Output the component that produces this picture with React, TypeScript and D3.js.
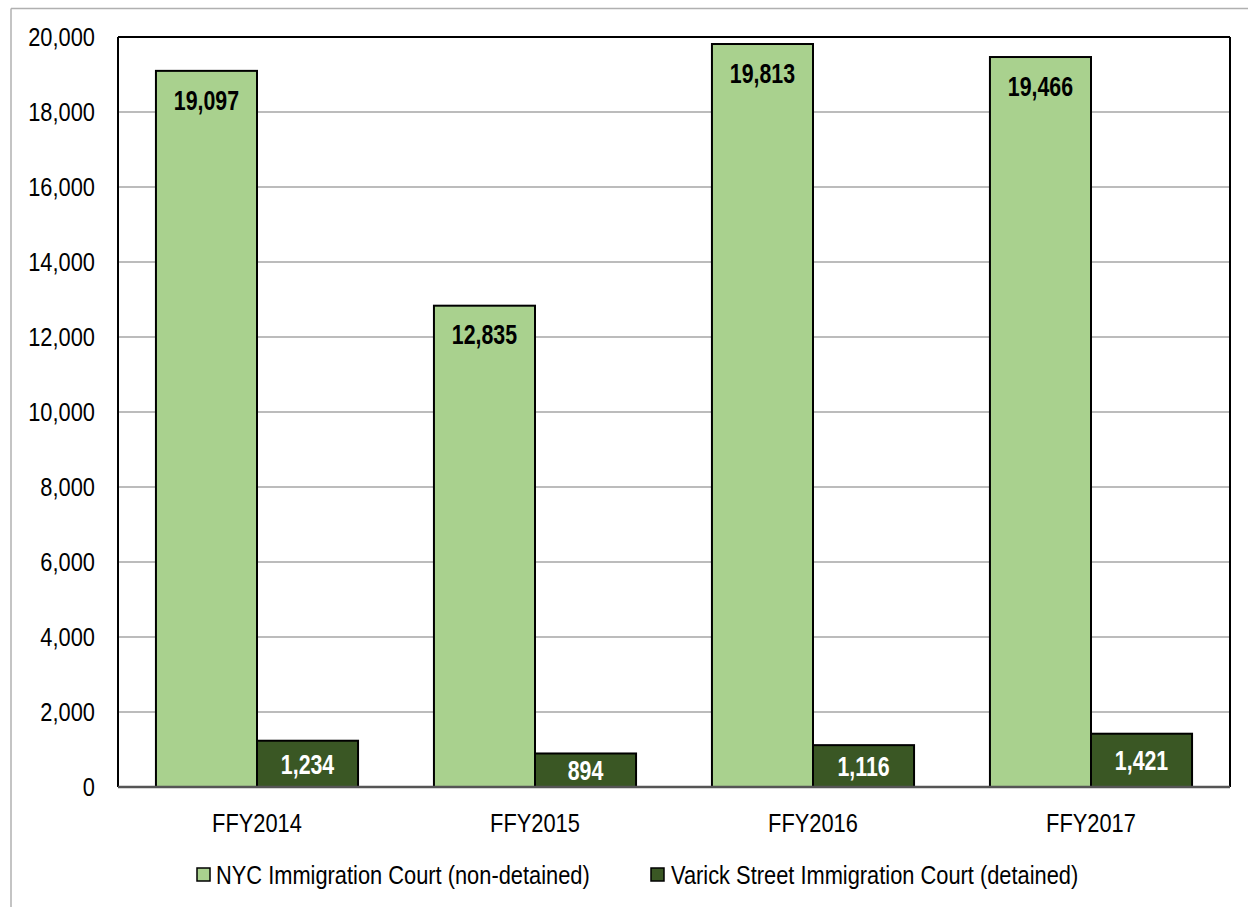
import React from "react";
import * as d3 from "d3";

const categories = ["FFY2014", "FFY2015", "FFY2016", "FFY2017"];
const seriesNames = [
  "NYC Immigration Court (non-detained)",
  "Varick Street Immigration Court (detained)",
];
const nycValues = [19097, 12835, 19813, 19466];
const varickValues = [1234, 894, 1116, 1421];
const yTicks = [0, 2000, 4000, 6000, 8000, 10000, 12000, 14000, 16000, 18000, 20000];

const colors = ["#A9D18E", "#3A5724"];
const FONT = "'Liberation Sans', Arial, sans-serif";
const SX = 0.84;
const SXB = 0.79;

function T(props: {
  x: number; y: number; sx: number; size: number; anchor?: string; bold?: boolean; fill?: string; children: React.ReactNode;
}) {
  return (
    <text
      transform={`translate(${props.x},${props.y}) scale(${props.sx},1)`}
      dy="0.36em"
      textAnchor={props.anchor || "start"}
      fontSize={props.size}
      fontWeight={props.bold ? "bold" : "normal"}
      fill={props.fill || "#000"}
    >
      {props.children}
    </text>
  );
}

export default function App() {
  const W = 1248, H = 907;
  const left = 118, right = 1230, top = 37, bottom = 787;
  const y = d3.scaleLinear().domain([0, 20000]).range([bottom, top]);
  const x = d3.scaleBand<string>().domain(categories).range([left, right]).paddingInner(0.273).paddingOuter(0.1365);
  const xs = d3.scaleBand<number>().domain([0, 1]).range([0, x.bandwidth()]).padding(0);
  const fmt = d3.format(",");
  const series = [nycValues, varickValues];

  return (
    <svg width={W} height={H} style={{ position: "absolute", left: 0, top: 0, background: "#fff" }} fontFamily={FONT}>
      <rect x={0} y={0} width={W} height={H} fill="#fff" />
      {/* outer frame */}
      <line x1={11} x2={W} y1={8.5} y2={8.5} stroke="#b0b0b0" strokeWidth={1.5} />
      <line x1={11} x2={11} y1={8.5} y2={H} stroke="#b0b0b0" strokeWidth={1.5} />
      {/* gridlines */}
      {yTicks.map((t) => (
        <line key={t} x1={left} x2={right} y1={y(t)} y2={y(t)} stroke="#a6a6a6" strokeWidth={1.5} />
      ))}
      {/* y tick labels */}
      {yTicks.map((t) => (
        <T key={"l" + t} x={95} y={y(t)} sx={SX} size={26} anchor="end">
          {fmt(t)}
        </T>
      ))}
      {/* bars */}
      {categories.map((c, i) =>
        series.map((vals, s) => {
          const bx = (x(c) as number) + (xs(s) as number);
          const bw = xs.bandwidth();
          const by = y(vals[i]);
          const bh = bottom - by;
          return (
            <g key={c + s}>
              <rect x={bx} y={by} width={bw} height={bh} fill={colors[s]} stroke="#000" strokeWidth={2} />
              <T
                x={bx + bw / 2}
                y={s === 0 ? by + 29 : by + bh / 2}
                sx={SXB}
                size={27}
                anchor="middle"
                bold
                fill={s === 0 ? "#000" : "#fff"}
              >
                {fmt(vals[i])}
              </T>
            </g>
          );
        })
      )}
      {/* plot border */}
      <line x1={left} x2={left} y1={top} y2={bottom} stroke="#000" strokeWidth={2} />
      <line x1={left} x2={right} y1={top} y2={top} stroke="#000" strokeWidth={2} />
      <line x1={right} x2={right} y1={top} y2={bottom} stroke="#000" strokeWidth={2} />
      <line x1={left} x2={right} y1={bottom} y2={bottom} stroke="#555" strokeWidth={2.5} />
      {/* x labels */}
      {categories.map((c) => (
        <T key={"x" + c} x={(x(c) as number) + x.bandwidth() / 2} y={823} sx={SX} size={26} anchor="middle">
          {c}
        </T>
      ))}
      {/* legend */}
      {[
        { sx: 197, tx: 216 },
        { sx: 651, tx: 671 },
      ].map((p, i) => (
        <g key={"lg" + i}>
          <rect x={p.sx} y={868} width={13} height={13} fill={colors[i]} stroke="#000" strokeWidth={1.5} />
          <T x={p.tx} y={875} sx={SX} size={26}>
            {seriesNames[i]}
          </T>
        </g>
      ))}
    </svg>
  );
}
